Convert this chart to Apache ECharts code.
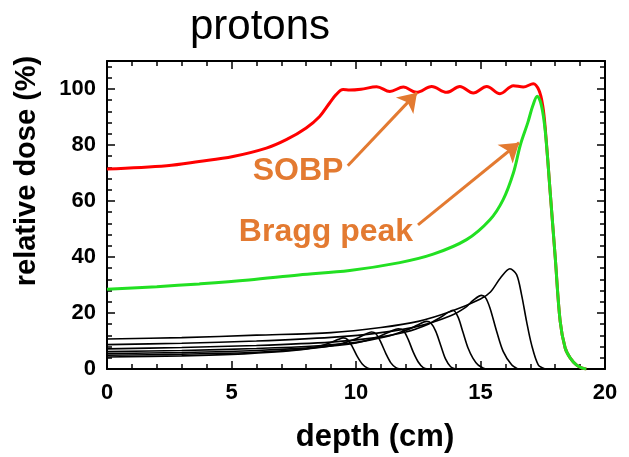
<!DOCTYPE html>
<html>
<head>
<meta charset="utf-8">
<script src="https://cdn.jsdelivr.net/npm/echarts@6/dist/echarts.min.js"></script>
<style>html,body{margin:0;padding:0;background:#fff}#c{width:629px;height:457px}</style>
</head>
<body>
<div id="c"></div>
<script>
// ---- data (depth cm, relative dose %) ----
const xTicks = [0, 5, 10, 15, 20];
const yTicks = [0, 20, 40, 60, 80, 100];

const sobp = [[0,71.4],[2.4,72.6],[3.7,74.1],[5.06,75.9],[6.4,78.9],[7.2,81.9],[8.0,86.1],[8.54,90.2],[8.94,95],[9.2,98],[9.48,99.8],[9.75,99.6],[10.2,99.9],[10.83,100.8],[11.36,99.1],[11.9,100.7],[12.43,98.8],[13.04,100.9],[13.64,98.8],[14.17,100.9],[14.71,98.6],[15.25,100.9],[15.78,98.3],[16.32,101.2],[16.72,100.7],[17.12,101.9],[17.35,99.5],[17.5,94],[17.6,86],[17.8,63],[18.0,40],[18.2,17],[18.4,7.5],[18.6,4],[18.85,1.5],[19.1,0.3],[19.25,0]];

const bragg = [[0,28.5],[2,29.4],[3.7,30.4],[5.7,31.8],[7.7,33.6],[9.75,35.2],[11.76,38],[13.1,41],[14.44,46.2],[15.38,53.3],[15.91,60.5],[16.32,70],[16.6,80],[16.9,88],[17.1,94],[17.28,97.4],[17.45,94],[17.6,85],[17.8,63],[18.0,40],[18.2,17],[18.4,7.5],[18.6,4],[18.85,1.5],[19.1,0.3],[19.25,0]];

const peak1 = [[0,4.3],[3,4.7],[5.5,5.4],[7.5,6.6],[8.5,8],[9,9.5],[9.3,10.6],[9.48,11.1],[9.65,10.6],[9.85,8],[10.05,4.5],[10.25,1.8],[10.45,0.4],[10.6,0]];
const peak2 = [[0,4.9],[3,5.3],[6,6],[8,7.2],[9.3,8.8],[10,10.8],[10.4,12.5],[10.62,13.2],[10.8,12.6],[11,9.5],[11.2,5.5],[11.4,2.2],[11.6,0.5],[11.8,0]];
const peak3 = [[0,5.5],[3,5.9],[6,6.6],[8.5,7.8],[10,9.3],[10.9,11.5],[11.4,13.5],[11.7,14.4],[11.9,13.8],[12.1,10.5],[12.3,6],[12.5,2.5],[12.7,0.5],[12.9,0]];
const peak4 = [[0,6.2],[3,6.6],[6,7.3],[8.5,8.3],[10,9.5],[11.2,11.5],[12,13.8],[12.5,15.8],[12.83,17],[13,16.5],[13.2,13.5],[13.4,8.5],[13.6,3.5],[13.8,0.8],[14,0]];
const peak5 = [[0,7.2],[3,7.7],[6,8.4],[9,9.6],[10.8,11.2],[12,13.2],[12.9,16],[13.4,18.5],[13.9,21],[14.1,18.5],[14.3,13],[14.5,7.5],[14.7,3.8],[14.9,1.5],[15.2,0]];
const peak6 = [[0,8.7],[3,9.2],[6,10],[9,11.3],[11,13],[12.6,15.5],[13.8,19],[14.4,22],[14.7,24.5],[15.04,26.3],[15.2,25.5],[15.38,21.8],[15.65,13.4],[15.91,6.3],[16.25,1.5],[16.5,0]];
const peak7 = [[0,10.7],[3,11.2],[6,12.1],[9,13],[11,14.8],[12.5,17],[13.8,20.5],[15,25],[15.4,27.5],[15.8,32.5],[16.18,35.8],[16.45,33.7],[16.65,26.5],[16.85,17],[17.05,8.7],[17.32,1.5],[17.6,0]];
const pristine = [peak1, peak2, peak3, peak4, peak5, peak6, peak7];

// annotation arrows (data coords): [from, to]
const sobpArrow = [[9.67, 72.6], [12.45, 98.7]];
const braggArrow = [[12.49, 51.5], [16.55, 80.8]];

const ORANGE = '#E37A31';
const FONT = '"Liberation Sans", Arial, sans-serif';

const chart = echarts.init(document.getElementById('c'));

function xAx(pos, interval, len, labels, line) {
  return {
    type: 'value', position: pos, min: 0, max: 20, interval: interval,
    axisLine: {show: line, onZero: false, lineStyle: {color: '#000', width: 2}},
    axisTick: {show: true, inside: true, length: len, lineStyle: {color: '#000', width: 1.5}},
    axisLabel: {show: labels, margin: 13, color: '#000', fontWeight: 'bold', fontSize: 22, fontFamily: FONT},
    splitLine: {show: false}
  };
}
function yAx(pos, interval, len, labels, line) {
  return {
    type: 'value', position: pos, min: 0, max: 110, interval: interval,
    axisLine: {show: line, onZero: false, lineStyle: {color: '#000', width: 2}},
    axisTick: {show: true, inside: true, length: len, lineStyle: {color: '#000', width: 1.5}},
    axisLabel: {show: labels, margin: 11, color: '#000', fontWeight: 'bold', fontSize: 22, fontFamily: FONT,
      showMaxLabel: false, formatter: v => (yTicks.indexOf(v) >= 0 ? String(v) : '')},
    splitLine: {show: false}
  };
}

const series = [];
pristine.forEach(d => series.push({
  type: 'line', data: d, showSymbol: false, smooth: 0.3,
  lineStyle: {color: '#000', width: 1.6}, silent: true, z: 2
}));
series.push({
  type: 'line', data: sobp, showSymbol: false, smooth: 0.35,
  lineStyle: {color: '#FF0000', width: 3}, silent: true, z: 3,
  markLine: {
    silent: true, symbol: ['none', 'arrow'], symbolSize: 18,
    label: {show: false},
    lineStyle: {color: ORANGE, width: 3, type: 'solid'},
    data: [
      [{coord: sobpArrow[0]}, {coord: sobpArrow[1]}],
      [{coord: braggArrow[0]}, {coord: braggArrow[1]}]
    ]
  }
});
series.push({
  type: 'line', data: bragg, showSymbol: false, smooth: 0.35,
  lineStyle: {color: '#22E022', width: 3}, silent: true, z: 4
});

chart.setOption({
  animation: false,
  grid: {left: 107, right: 24, top: 61, bottom: 88, containLabel: false},
  xAxis: [xAx('bottom', 5, 8, true, true), xAx('bottom', 1, 5, false, false),
          xAx('top', 5, 8, false, true), xAx('top', 1, 5, false, false)],
  yAxis: [yAx('left', 20, 8, true, true), yAx('left', 4, 5, false, false),
          yAx('right', 20, 8, false, true), yAx('right', 4, 5, false, false)],
  series: series,
  graphic: [
    {type: 'text', x: 260, y: 27, style: {text: 'protons', font: '42px ' + FONT, fill: '#000', align: 'center', verticalAlign: 'middle'}},
    {type: 'text', x: 375, y: 437, style: {text: 'depth (cm)', font: 'bold 31px ' + FONT, fill: '#000', align: 'center', verticalAlign: 'middle'}},
    {type: 'text', x: 27, y: 171, rotation: Math.PI / 2, style: {text: 'relative dose (%)', font: 'bold 29px ' + FONT, fill: '#000', align: 'center', verticalAlign: 'middle'}},
    {type: 'text', x: 298, y: 171, style: {text: 'SOBP', font: 'bold 32px ' + FONT, fill: ORANGE, align: 'center', verticalAlign: 'middle'}},
    {type: 'text', x: 326, y: 232, style: {text: 'Bragg peak', font: 'bold 32px ' + FONT, fill: ORANGE, align: 'center', verticalAlign: 'middle'}}
  ]
});
</script>
</body>
</html>
